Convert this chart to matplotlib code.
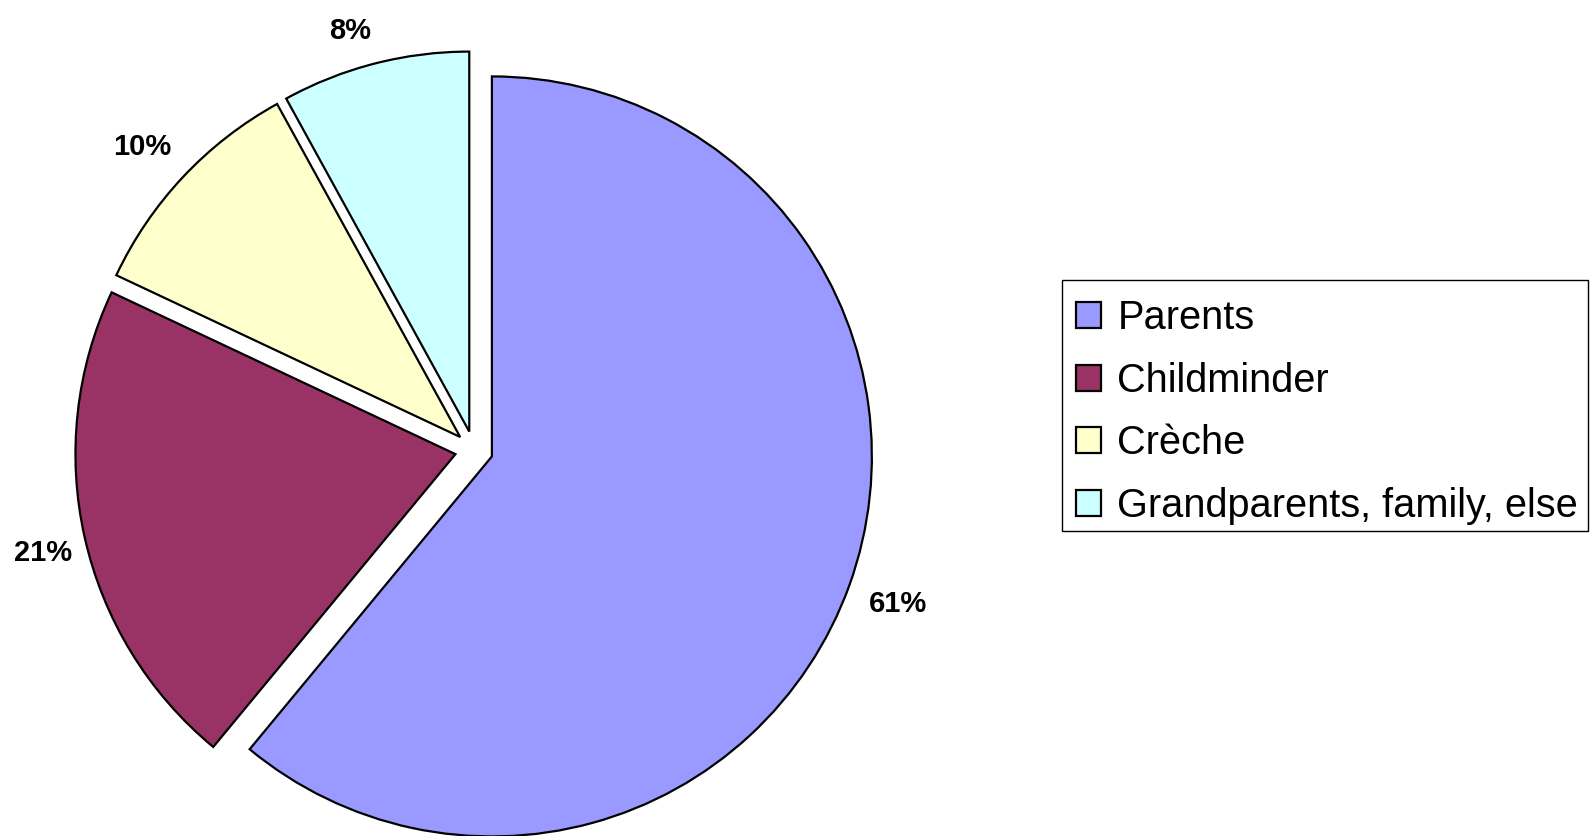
import numpy as np
import matplotlib
matplotlib.use('Agg')
import matplotlib.pyplot as plt
from matplotlib.patches import Patch, Rectangle

plt.rcParams['font.family'] = ['Liberation Sans', 'DejaVu Sans']

# data
categories = ['Parents', 'Childminder', 'Crèche', 'Grandparents, family, else']
shares = [61, 21, 10, 8]
colors = ['#9999FF', '#993366', '#FFFFCC', '#CCFFFF']

W, H = 1590, 836
fig = plt.figure(figsize=(W / 100, H / 100), dpi=100)
ax = fig.add_axes([0, 0, 1, 1])

# axes work in pixel units so the layout can follow the reference
radius = 380
gap = 19
wedges, texts, pct_texts = ax.pie(
    shares, colors=colors, startangle=90, counterclock=False,
    radius=radius, center=(474, H - 450),
    explode=[gap] * len(shares),
    autopct='%1.0f%%', pctdistance=1.13,
    wedgeprops=dict(edgecolor='black', linewidth=1.6),
    textprops=dict(fontsize=21, fontweight='bold', color='black'))

# label placement: radial, with small nudges (px) as in the source
label_dist = [1.13, 1.115, 1.13, 1.10]
nudge = [(2, 2), (1, -2), (-5, 0), (-15, 0)]
for w, t, d, (dx, dy) in zip(wedges, pct_texts, label_dist, nudge):
    th = np.deg2rad(0.5 * (w.theta1 + w.theta2))
    cx, cy = w.center
    t.set_position((cx + d * radius * np.cos(th) + dx,
                    cy + d * radius * np.sin(th) - 4 + dy))

ax.set_xlim(0, W)
ax.set_ylim(0, H)
ax.set_aspect('equal')
ax.axis('off')

# legend frame drawn separately so it sits where the original one does
ax.add_patch(Rectangle((1062, H - 531), 526, 251, facecolor='white',
                       edgecolor='black', linewidth=1.0, zorder=0))

handles = [Patch(facecolor=c, edgecolor='black', linewidth=1.6) for c in colors]
leg = fig.legend(handles, categories, loc='upper left',
                 bbox_to_anchor=(1076 / W, 1 - 299 / H), borderaxespad=0,
                 fontsize=28.6, frameon=False,
                 handlelength=0.62, handleheight=0.63, handletextpad=0.42,
                 labelspacing=0.62, borderpad=0)

fig.savefig('out.png', dpi=100)
